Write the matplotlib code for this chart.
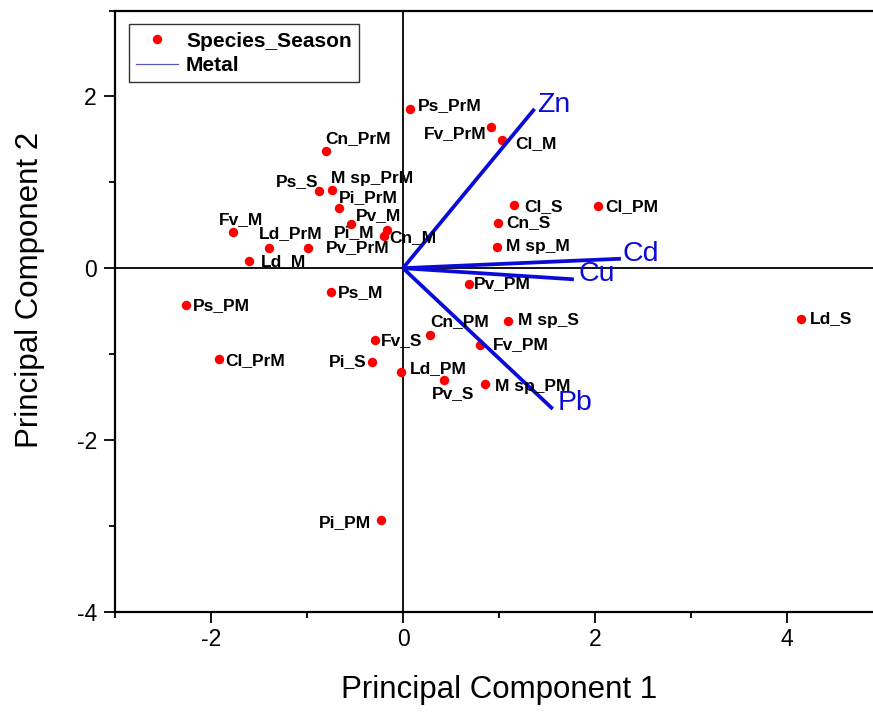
import matplotlib.pyplot as plt
from matplotlib.lines import Line2D
from matplotlib.ticker import MultipleLocator

plt.rcParams['font.family'] = ['Liberation Sans', 'DejaVu Sans']
plt.rcParams['axes.unicode_minus'] = False

# scores of species/season samples
labels = ['Cn_PrM', 'Ps_S', 'M sp_PrM', 'Pi_PrM', 'Pv_M', 'Pi_M', 'Cn_M', 'Pv_PrM',
          'Fv_M', 'Ld_PrM', 'Ld_M', 'Ps_PrM', 'Fv_PrM', 'Cl_M', 'Cl_S', 'Cl_PM',
          'Cn_S', 'M sp_M', 'Pv_PM', 'Cn_PM', 'M sp_S', 'Fv_PM', 'Ld_PM', 'Pv_S',
          'M sp_PM', 'Ps_M', 'Ps_PM', 'Cl_PrM', 'Fv_S', 'Pi_S', 'Ld_S', 'Pi_PM']
pc1 = [-0.80, -0.88, -0.74, -0.665, -0.54, -0.17, -0.20, -0.99,
       -1.77, -1.40, -1.60, 0.07, 0.915, 1.03, 1.16, 2.03,
       0.99, 0.98, 0.69, 0.28, 1.09, 0.80, -0.02, 0.425,
       0.85, -0.75, -2.26, -1.92, -0.29, -0.325, 4.15, -0.23]
pc2 = [1.37, 0.895, 0.905, 0.70, 0.51, 0.44, 0.37, 0.23,
       0.42, 0.23, 0.08, 1.855, 1.64, 1.49, 0.73, 0.72,
       0.53, 0.25, -0.18, -0.78, -0.61, -0.89, -1.21, -1.30,
       -1.35, -0.28, -0.43, -1.06, -0.84, -1.09, -0.59, -2.93]

# metal loadings
metals = ['Zn', 'Cd', 'Cu', 'Pb']
metal_pc1 = [1.37, 2.27, 1.78, 1.56]
metal_pc2 = [1.855, 0.11, -0.13, -1.64]

# label placement (pixels, y down, alignment)
label_pos = {
    'Cn_PrM': (-1, -12, 'left'), 'Ps_S': (0, -10, 'right'), 'M sp_PrM': (-1, -12, 'left'),
    'Pi_PrM': (0, -11, 'left'), 'Pv_M': (5, -9, 'left'), 'Pi_M': (-12, 2, 'right'),
    'Cn_M': (5, 1, 'left'), 'Pv_PrM': (18, -1, 'left'), 'Fv_M': (-14, -13, 'left'),
    'Ld_PrM': (-10, -15, 'left'), 'Ld_M': (11, 0, 'left'), 'Ps_PrM': (8, -3, 'left'),
    'Fv_PrM': (-4, 6, 'right'), 'Cl_M': (13, 3, 'left'), 'Cl_S': (10, 1, 'left'),
    'Cl_PM': (7, 0, 'left'), 'Cn_S': (8, 0, 'left'), 'M sp_M': (9, 0, 'left'),
    'Pv_PM': (5, 0, 'left'), 'Cn_PM': (0, -14, 'left'), 'M sp_S': (10, 0, 'left'),
    'Fv_PM': (13, 0, 'left'), 'Ld_PM': (9, -3, 'left'), 'Pv_S': (-12, 14, 'left'),
    'M sp_PM': (10, 2, 'left'), 'Ps_M': (7, 0, 'left'), 'Ps_PM': (7, 0, 'left'),
    'Cl_PrM': (7, 1, 'left'), 'Fv_S': (6, 0, 'left'), 'Pi_S': (-5, 0, 'right'),
    'Ld_S': (8, 0, 'left'), 'Pi_PM': (-10, 3, 'right'),
}
metal_pos = {'Zn': (3, -4), 'Cd': (2, -5), 'Cu': (5, -5), 'Pb': (5, -6)}

blue = '#0b0bd8'

fig = plt.figure(figsize=(8.73, 7.15), dpi=100)
ax = fig.add_axes([115 / 873, (715 - 611.6) / 715, 768 / 873, 601 / 715])
ax.set_xlim(-3, 5)
ax.set_ylim(-4, 3)

ax.axhline(0, color='black', lw=1.3, zorder=1)
ax.axvline(0, color='black', lw=1.3, zorder=1)

ax.plot(pc1, pc2, 'o', color='red', ms=6.8, mec='none', zorder=3)
for lab, x, y in zip(labels, pc1, pc2):
    dx, dy, ha = label_pos[lab]
    ax.annotate(lab, (x, y), xytext=(dx, -dy), textcoords='offset pixels',
                ha=ha, va='center', fontsize=12.5, fontweight='bold', zorder=5)

for m, x, y in zip(metals, metal_pc1, metal_pc2):
    ax.plot([0, x], [0, y], color=blue, lw=2.7, solid_capstyle='butt', zorder=4)
    dx, dy = metal_pos[m]
    ax.annotate(m, (x, y), xytext=(dx, -dy), textcoords='offset pixels',
                ha='left', va='center', fontsize=20.5, color=blue, zorder=5)

ax.xaxis.set_major_locator(MultipleLocator(2))
ax.xaxis.set_minor_locator(MultipleLocator(1))
ax.yaxis.set_major_locator(MultipleLocator(2))
ax.yaxis.set_minor_locator(MultipleLocator(1))
ax.tick_params(which='major', direction='out', length=8, width=1.3, labelsize=16.5)
ax.tick_params(which='minor', direction='out', length=4, width=1.3)
ax.tick_params(axis='x', pad=4)
ax.tick_params(axis='y', pad=5)
for s in ax.spines.values():
    s.set_linewidth(1.6)

ax.set_xlabel('Principal Component 1', fontsize=22.5)
ax.set_ylabel('Principal Component 2', fontsize=22.5)
ax.xaxis.set_label_coords(0.5, -0.13)
ax.xaxis.label.set_va('center')
ax.yaxis.set_label_coords(-0.111, 0.535)
ax.yaxis.label.set_va('center')

handles = [
    Line2D([], [], marker='o', color='red', ls='none', ms=6.8, mec='none'),
    Line2D([], [], color='#5a5ab4', lw=0.9),
]
leg = ax.legend(handles, ['Species_Season', 'Metal'], loc='upper left',
                bbox_to_anchor=(0.018, 0.977), borderaxespad=0, fancybox=False,
                framealpha=1, edgecolor='#333333', prop={'weight': 'bold', 'size': 15},
                handlelength=2.0, handletextpad=0.4, borderpad=0.35, labelspacing=0.25)
leg.get_frame().set_linewidth(1.0)

fig.savefig('out.png', dpi=100)
